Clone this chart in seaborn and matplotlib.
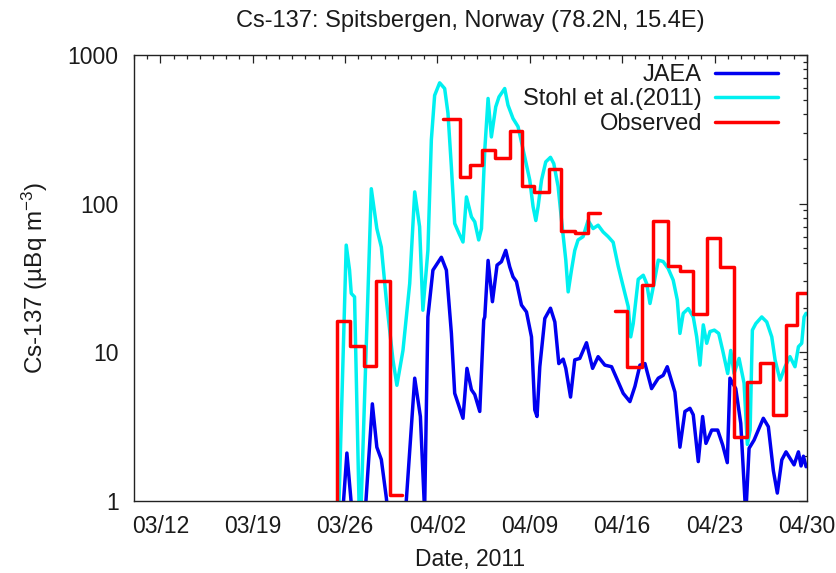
import numpy as np
import pandas as pd
import matplotlib
matplotlib.use("Agg")
import matplotlib.pyplot as plt
import matplotlib.dates as mdates
from matplotlib.ticker import FixedLocator, LogLocator, NullFormatter
import seaborn as sns

# ---- data (time in days since 2011-03-10 00:00 UTC, concentrations in uBq/m3) ----
base_date = "2011-03-10"

jaea_days = [14.5, 15.85, 16.14, 16.50, 17.55, 18.07, 18.41, 18.75, 19.13, 19.50,
             20.64, 21.28, 21.71, 22.03, 22.28, 22.66, 23.30, 23.68, 24.06, 24.31,
             24.94, 25.24, 25.58, 25.83, 26.21, 26.51, 26.59, 26.84, 27.17, 27.52,
             27.85, 28.18, 28.48, 28.73, 28.99, 29.37, 29.75, 30.13, 30.38, 30.55,
             30.76, 31.14, 31.57, 31.90, 32.20, 32.53, 32.73, 33.09, 33.41, 33.79,
             34.30, 34.76, 35.18, 35.69, 36.20, 36.58, 37.08, 37.59, 37.97, 38.35,
             38.73, 39.23, 39.74, 40.11, 40.42, 41.00, 41.38, 41.76, 42.14, 42.39,
             42.77, 43.10, 43.35, 43.79, 44.24, 44.62, 44.97, 45.17, 45.61, 45.99,
             46.37, 46.62, 47.00, 47.70, 48.08, 48.46, 48.76, 49.10, 49.42, 50.03,
             50.36, 50.56, 50.74, 50.94]
jaea_vals = [0.3, 0.9, 2.1, 0.9, 0.9, 4.5, 2.3, 1.9, 1.05, 0.5,
             1.0, 6.7, 3.7, 0.85, 17.3, 35.7, 43.6, 35.7, 13.4, 5.3,
             3.6, 7.8, 5.6, 5.2, 4.0, 16.5, 17.3, 41.5, 21.9, 38.6,
             40.7, 48.5, 37.6, 32.2, 29.9, 20.8, 18.7, 12.7, 4.1, 3.7,
             8.0, 16.9, 19.8, 16.0, 8.4, 9.0, 7.8, 5.0, 8.9, 9.1,
             11.6, 7.8, 9.35, 8.2, 8.0, 6.7, 5.3, 4.66, 5.9, 8.2,
             8.4, 5.7, 6.7, 7.0, 8.0, 5.4, 2.3, 4.0, 4.2, 3.8,
             1.84, 3.7, 2.44, 3.0, 3.0, 2.38, 1.81, 6.7, 5.7, 3.33,
             0.8, 2.26, 2.57, 3.6, 3.16, 1.6, 1.13, 1.89, 2.14, 1.75,
             2.14, 1.72, 2.0, 1.7]

stohl_days = [14.5, 15.53, 16.09, 16.34, 16.47, 16.72, 17.08, 17.23, 17.99, 18.41,
              18.75, 19.13, 19.63, 19.93, 20.39, 20.90, 21.28, 21.65, 21.90, 22.28,
              22.54, 22.79, 23.17, 23.55, 23.80, 24.06, 24.31, 24.64, 24.94, 25.20,
              25.58, 25.83, 26.13, 26.34, 26.59, 26.84, 27.09, 27.42, 27.67, 27.93,
              28.10, 28.35, 28.73, 29.11, 29.37, 29.75, 30.00, 30.25, 30.46, 30.63,
              30.89, 31.21, 31.57, 31.82, 32.15, 32.41, 32.73, 32.91, 33.16, 33.41,
              33.66, 34.04, 34.42, 34.80, 35.18, 35.56, 35.94, 36.32, 36.70, 36.96,
              37.21, 37.46, 37.65, 37.84, 38.22, 38.60, 38.86, 39.11, 39.41, 39.74,
              40.11, 40.49, 40.87, 41.18, 41.38, 41.63, 42.01, 42.39, 42.65, 42.90,
              43.15, 43.41, 43.66, 43.99, 44.32, 44.62, 45.00, 45.23, 45.48, 45.86,
              46.24, 46.49, 46.70, 46.87, 47.13, 47.58, 47.96, 48.34, 48.59, 48.97,
              49.35, 49.72, 50.10, 50.36, 50.61, 50.79, 50.94]
stohl_vals = [0.3, 0.9, 52.6, 35.8, 24.9, 23.6, 0.8, 1.0, 126, 68,
              51, 22.5, 8.9, 6.0, 10.3, 29, 120, 70, 19.2, 48.5,
              268, 535, 650, 595, 406, 176, 73.6, 63, 55.2, 111,
              81.5, 75.5, 57, 68, 230, 510, 281, 448, 523, 565,
              595, 460, 374, 330, 260, 182, 144, 95.5, 77, 95.5,
              144, 191, 205, 186, 130, 77, 41.7, 25.5, 35.7, 48.5,
              57, 60, 77, 68, 71.6, 64.5, 60, 55, 38, 30.6,
              24.9, 20.3, 12.7, 15.6, 31, 33, 29, 21.3, 29, 41.7,
              40.8, 36.6, 30.6, 22.5, 13.4, 18.3, 19.7, 17.3, 12.7, 8.2,
              15.3, 11.5, 13.8, 14.1, 13.4, 10.3, 7.2, 10.3, 7.2, 9.1,
              6.2, 2.4, 3.0, 14.1, 15.6, 17.3, 16.0, 12.7, 8.9, 6.5,
              8.0, 9.35, 8.0, 10.9, 11.5, 17.3, 18.3]

# observed samples: edges of each sampling interval and the mean value in it
obs_edges_1 = [14.40, 15.41, 16.40, 17.41, 18.37, 19.38, 20.34]
obs_vals_1 = [0.5, 16.2, 11.0, 8.1, 30, 1.1]
obs_edges_2 = [23.42, 24.69, 25.45, 26.41, 27.35, 28.48, 29.42, 30.30, 31.44,
               32.40, 33.41, 34.45, 35.31]
obs_vals_2 = [371, 151, 182, 230, 202, 310, 131, 120, 170, 65.5, 63, 87]
obs_edges_3 = [36.45, 37.34, 38.47, 39.36, 40.45, 41.38, 42.39, 43.41, 44.42,
               45.50, 46.44, 47.45, 48.46, 49.40, 50.28, 51.30]
obs_vals_3 = [19, 8.0, 28.4, 76, 38, 35.4, 18.1, 58.4, 37.3, 2.7, 6.3, 8.5,
              3.8, 15.2, 25.2]

tick_labels = ["03/12", "03/19", "03/26", "04/02", "04/09", "04/16", "04/23", "04/30"]
ytick_vals = [1, 10, 100, 1000]


def to_time(days):
    return pd.Timestamp(base_date) + pd.to_timedelta(np.asarray(days, float), unit="D")


sns.set_style("white")
plt.rcParams["font.family"] = ["Liberation Sans", "DejaVu Sans"]
plt.rcParams["mathtext.fontset"] = "custom"
plt.rcParams["mathtext.rm"] = "Liberation Sans"
plt.rcParams["mathtext.it"] = "Liberation Sans"

FS = 16.5
TXT = "#1a1a1a"

fig = plt.figure(figsize=(8.37, 5.73), dpi=100)
ax = fig.add_axes([0.160, 0.1257, 0.804, 0.7783])

lw = 2.5
jaea = pd.DataFrame({"t": to_time(jaea_days), "v": jaea_vals})
stohl = pd.DataFrame({"t": to_time(stohl_days), "v": stohl_vals})
sns.lineplot(data=jaea, x="t", y="v", ax=ax, color="#0000f0", lw=lw,
             label="JAEA", estimator=None, sort=False)
sns.lineplot(data=stohl, x="t", y="v", ax=ax, color="#00f0f0", lw=lw,
             label="Stohl et al.(2011)", estimator=None, sort=False)

for i, (edges, vals) in enumerate([(obs_edges_1, obs_vals_1),
                                   (obs_edges_2, obs_vals_2),
                                   (obs_edges_3, obs_vals_3)]):
    blk = pd.DataFrame({"t": to_time(edges), "v": list(vals) + [vals[-1]]})
    sns.lineplot(data=blk, x="t", y="v", ax=ax, color="#ff0000", lw=lw,
                 drawstyle="steps-post", estimator=None, sort=False,
                 label="Observed" if i == 0 else None)

ax.set_yscale("log")
ax.set_ylim(1, 1000)
ax.set_xlim(to_time([0])[0], to_time([51])[0])

major_dates = [mdates.date2num(pd.Timestamp(f"2011-{lab.replace('/', '-')}")) for lab in tick_labels]
ax.xaxis.set_major_locator(FixedLocator(major_dates))
ax.set_xticklabels(tick_labels)
ax.xaxis.set_minor_locator(mdates.DayLocator())
ax.yaxis.set_major_locator(FixedLocator(ytick_vals))
ax.set_yticklabels([str(v) for v in ytick_vals])
ax.yaxis.set_minor_locator(LogLocator(base=10, subs=np.arange(2, 10)))
ax.yaxis.set_minor_formatter(NullFormatter())

ax.tick_params(which="both", direction="in", top=True, right=True,
               colors="#222222", labelcolor=TXT, labelsize=FS, width=0.9)
ax.tick_params(which="major", length=6)
ax.tick_params(axis="x", which="major", pad=10)
ax.tick_params(axis="y", which="major", pad=11)
ax.tick_params(which="minor", length=3)
for s in ax.spines.values():
    s.set_linewidth(1.0)
    s.set_color("#222222")

ax.set_xlabel("Date, 2011", fontsize=FS, labelpad=7, color=TXT)
ax.set_ylabel("Cs-137 (µBq m$^{-3}$)", fontsize=17.5, labelpad=13, color=TXT)
ax.set_title("Cs-137: Spitsbergen, Norway (78.2N, 15.4E)", fontsize=17, pad=20,
             color=TXT)

leg = ax.legend(loc="upper right", bbox_to_anchor=(0.960, 0.985), frameon=False,
                markerfirst=False, fontsize=17, handlelength=2.65,
                handletextpad=0.55, labelspacing=0.1, borderaxespad=0.0,
                borderpad=0.1)
for t in leg.get_texts():
    t.set_color(TXT)

fig.savefig("out.png", dpi=100)
